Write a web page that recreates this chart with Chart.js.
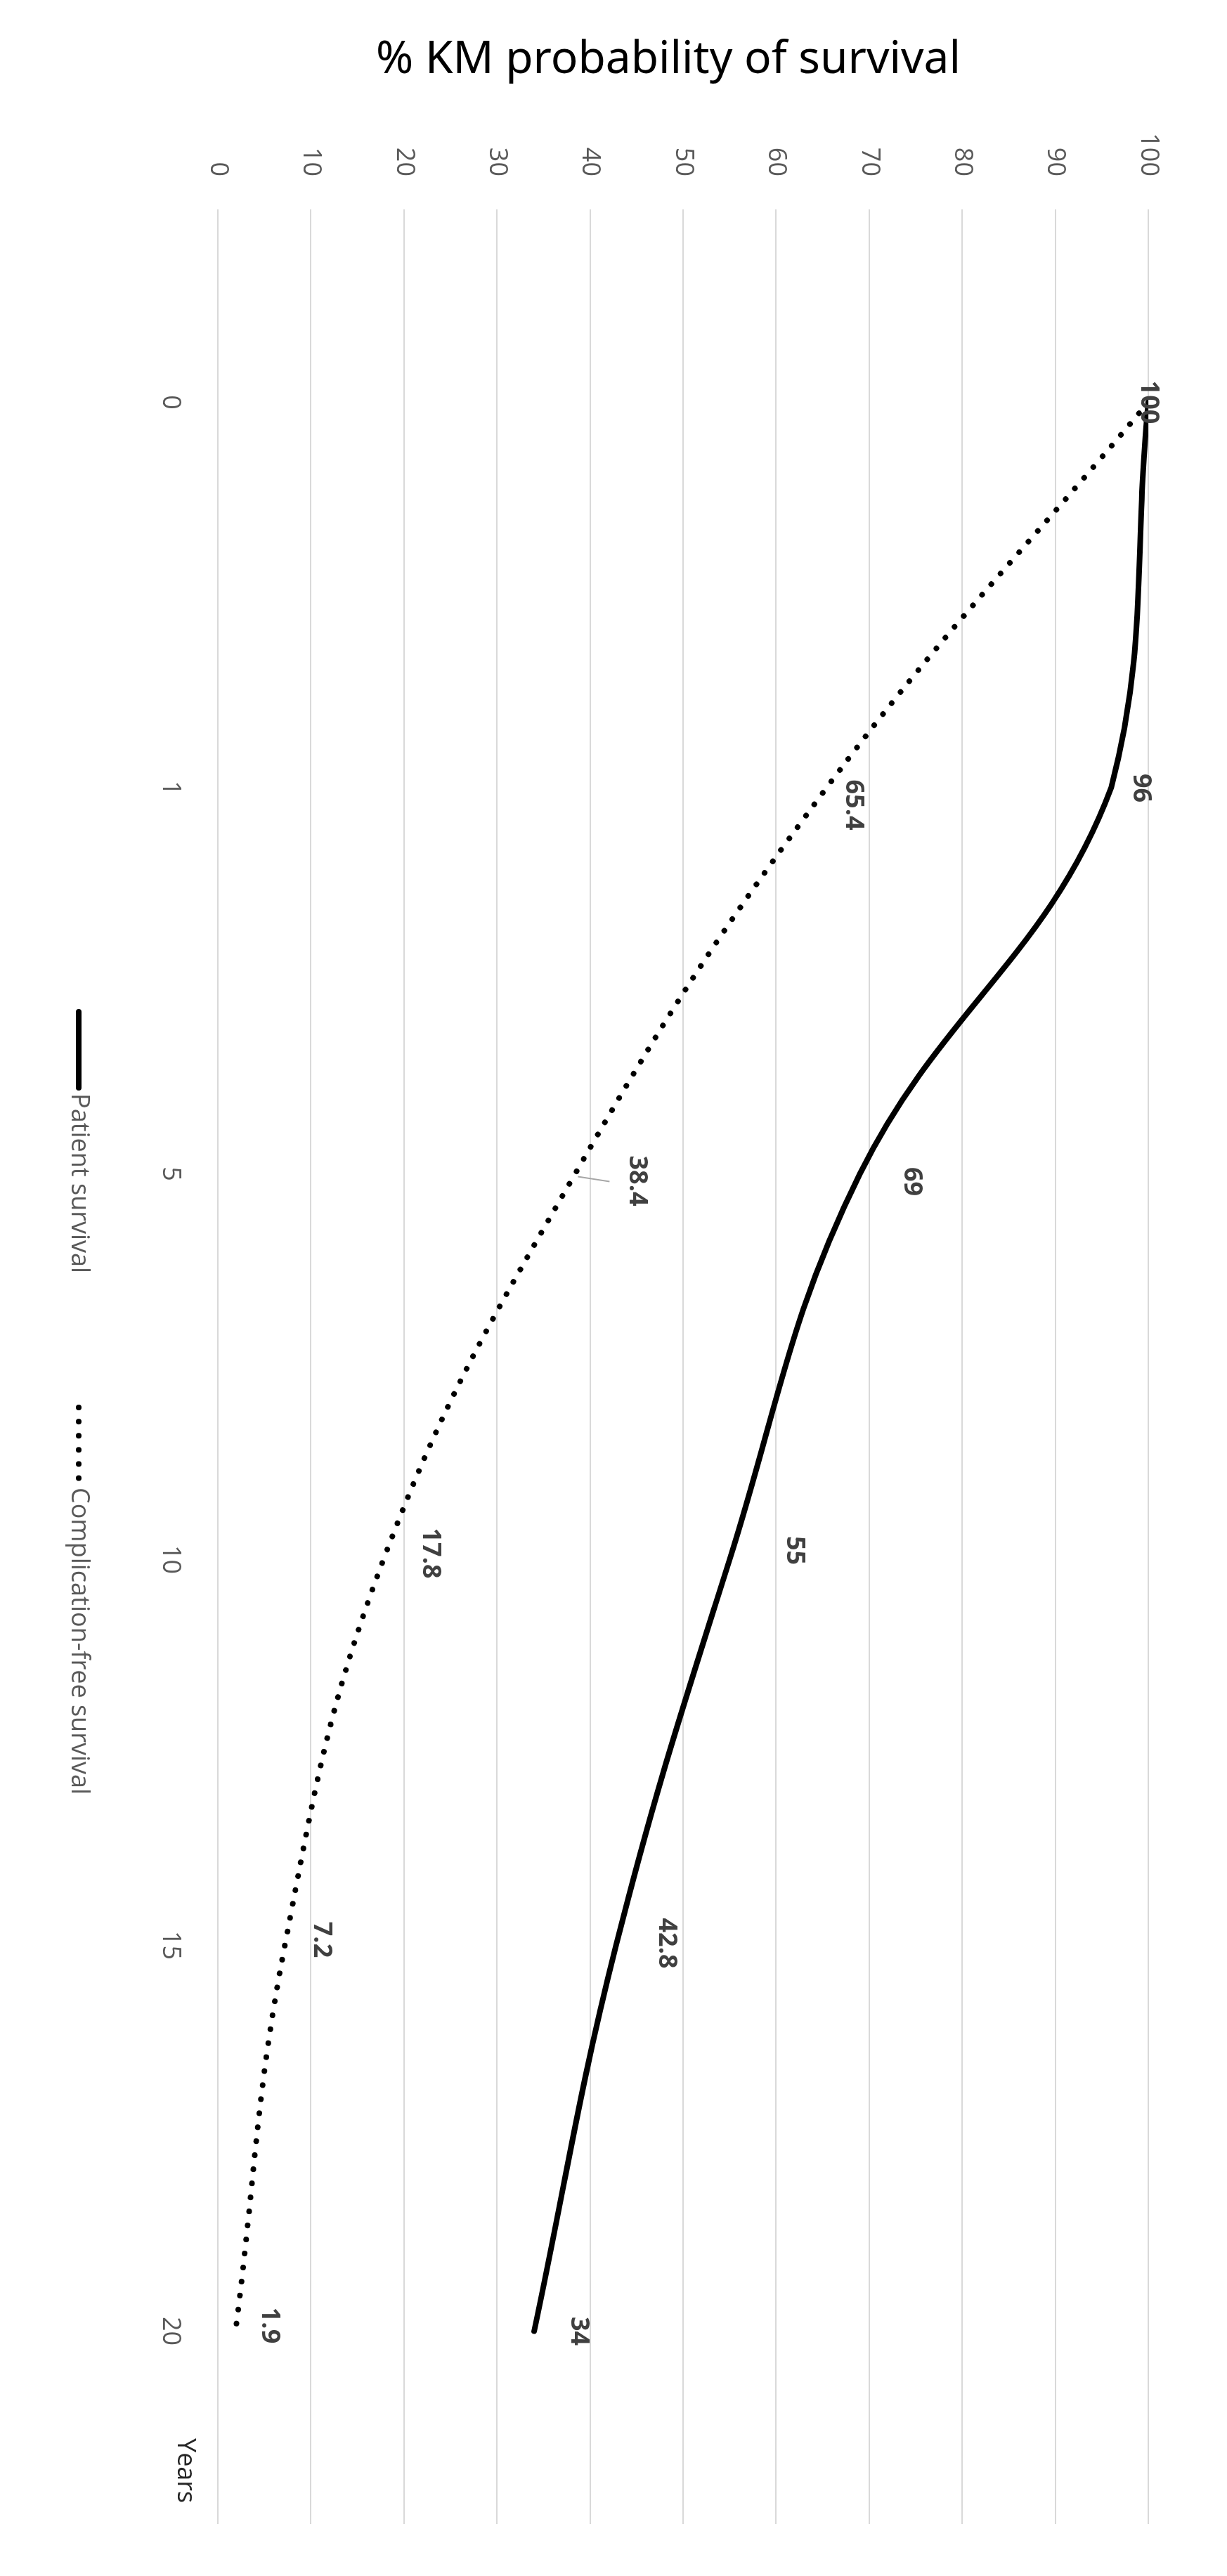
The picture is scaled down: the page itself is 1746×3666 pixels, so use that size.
<!DOCTYPE html>
<html><head><meta charset="utf-8">
<script src="https://cdn.jsdelivr.net/npm/chart.js@4"></script>
<style>
html,body{margin:0;padding:0;background:#fff;width:1746px;height:3666px;overflow:hidden}
#title{position:absolute;left:0;width:1902px;top:40px;text-align:center;font-family:"Noto Sans";font-size:64px;color:#000;line-height:80px;z-index:2}
#wrap{position:absolute;left:0;top:0;width:3666px;height:1746px;transform-origin:0 0;transform:translateX(1746px) rotate(90deg)}
</style></head><body>
<div id="title">% KM probability of survival</div>
<div id="wrap"><canvas id="c" width="3666" height="1746"></canvas></div>
<script>
const years = ['0','1','5','10','15','20'];
const patientSurvival = [100, 96, 69, 55, 42.8, 34];
const complicationFree = [100, 65.4, 38.4, 17.8, 7.2, 1.9];
const valueTicks = [0,10,20,30,40,50,60,70,80,90,100];
const seriesNames = ['Patient survival', 'Complication-free survival'];
// label offsets (along value axis, along category axis), in px
const labelShift = [
  [[0,0],[42,0],[74,11],[92,-13],[72,-3],[63,0]],
  [null,[38,24],[88,10],[67,-9],[52,-8],[48,-8]]
];
const FONT = '"Open Sans"';
const plugin = {
  id:'extras',
  afterDatasetsDraw(chart){
    const ctx = chart.ctx;
    ctx.save();
    ctx.font = 'bold 36px ' + FONT;
    ctx.fillStyle = '#404040';
    ctx.textAlign = 'center'; ctx.textBaseline = 'middle';
    chart.data.datasets.forEach((ds, di) => {
      const meta = chart.getDatasetMeta(di);
      meta.data.forEach((pt, i) => {
        const s = labelShift[di][i];
        if (!s) return;
        const lx = pt.x + s[1], ly = pt.y - s[0];
        if (di === 1 && i === 2) {
          ctx.strokeStyle = '#a6a6a6'; ctx.lineWidth = 2;
          ctx.beginPath(); ctx.moveTo(pt.x + 4, pt.y - 4); ctx.lineTo(pt.x + 11, pt.y - 49); ctx.stroke();
        }
        ctx.fillText(String(ds.data[i]), lx, ly);
      });
    });
    const ca = chart.chartArea;
    ctx.font = '36px ' + FONT; ctx.fillStyle = '#262626';
    ctx.textAlign = 'left';
    ctx.fillText('Years', ca.right - 122, ca.bottom + 47);
    const lv = ca.bottom + 198;
    let u = 1436;
    ctx.font = '36px ' + FONT; ctx.fillStyle = '#595959';
    chart.data.datasets.forEach((ds, di) => {
      ctx.save();
      ctx.strokeStyle = '#000'; ctx.lineWidth = ds.borderWidth; ctx.lineCap = ds.borderCapStyle || 'butt';
      ctx.setLineDash(ds.borderDash || []);
      ctx.beginPath();
      if (di === 0) { ctx.moveTo(u + 4, lv); ctx.lineTo(u + 112, lv); }
      else { ctx.moveTo(u + 6, lv); ctx.lineTo(u + 110, lv); }
      ctx.stroke(); ctx.restore();
      ctx.fillText(seriesNames[di], u + 120, lv);
      u += 561;
    });
    ctx.restore();
  }
};
new Chart(document.getElementById('c'), {
  type:'line',
  data:{ labels: years, datasets:[
    {label:seriesNames[0], data:patientSurvival, borderColor:'#000', borderWidth:8, tension:0.4, pointRadius:0, fill:false, borderCapStyle:'round'},
    {label:seriesNames[1], data:complicationFree, borderColor:'#000', borderWidth:8, tension:0.4, pointRadius:0, fill:false, borderDash:[0.1,20], borderCapStyle:'round'}
  ]},
  options:{
    responsive:false, animation:false, devicePixelRatio:1,
    layout:{padding:{top:112,right:74,left:0,bottom:0}},
    plugins:{legend:{display:false}, tooltip:{enabled:false}, title:{display:false}},
    scales:{
      x:{ offset:true, grid:{display:false, drawTicks:false}, border:{display:false},
          ticks:{font:{family:FONT,size:36}, color:'#595959', padding:46, maxRotation:0},
          afterFit(s){ s.height = 310; } },
      y:{ min:0, max:100, grid:{color:'#d9d9d9', lineWidth:2, drawTicks:false}, border:{display:false},
          afterBuildTicks(s){ s.ticks = valueTicks.map(v => ({value:v})); },
          ticks:{font:{family:FONT,size:36}, color:'#595959', padding:47},
          afterFit(s){ s.width = 298; } }
    }
  },
  plugins:[plugin]
});
</script>
</body></html>
